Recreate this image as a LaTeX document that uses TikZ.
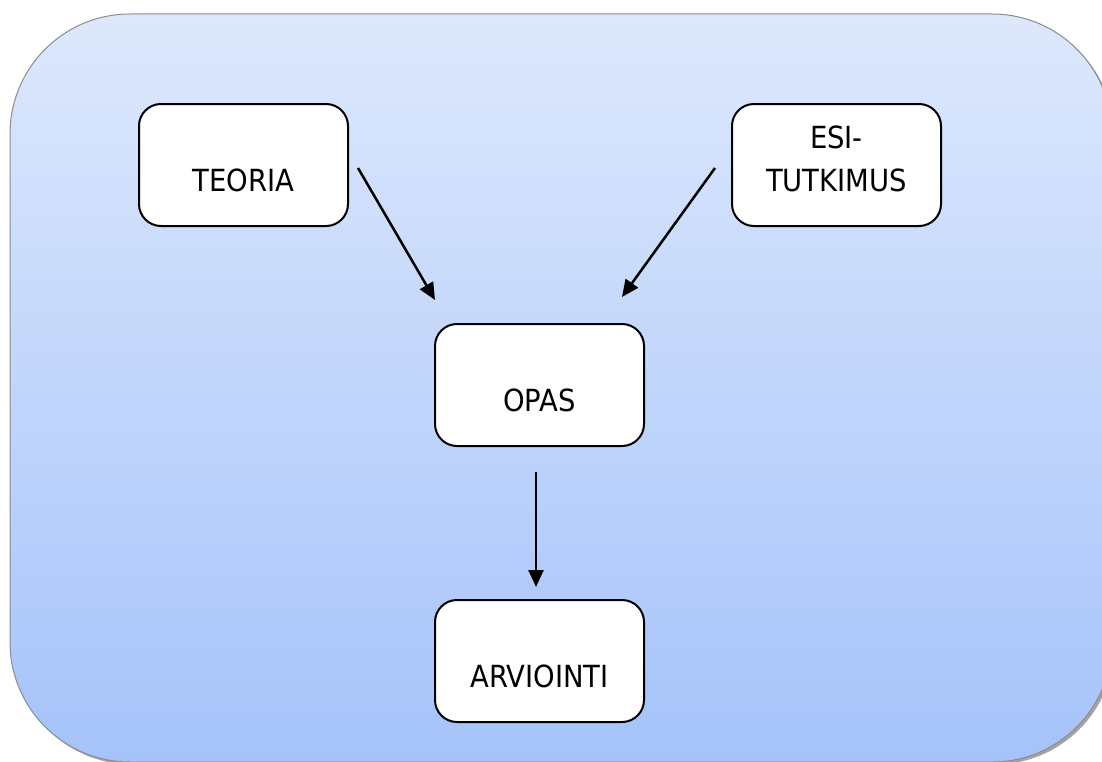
\documentclass[tikz,border=0pt]{standalone}
\usepackage{fontspec}
\setmainfont{DejaVu Sans Condensed}
\usetikzlibrary{arrows.meta,shadows}
\definecolor{paneltop}{HTML}{DDE8FC}
\definecolor{panelbottom}{HTML}{A5C3FA}
\begin{document}
\begin{tikzpicture}[x=1bp,y=-1bp,
  stagebox/.style={draw=black, line width=2bp, fill=white, rounded corners=22bp,
    minimum width=209bp, minimum height=122bp, inner sep=0pt, anchor=north west,
    text height=87bp, text depth=35bp, font=\fontsize{30.5bp}{43bp}\selectfont},
  flow/.style={line width=2.5bp, -{Triangle[length=17bp,width=15bp]}}]
\useasboundingbox (0,0) rectangle (1102,762);

% background panel with gradient and shadow
\path[draw=gray!90, line width=1bp, rounded corners=120bp,
  top color=paneltop, bottom color=panelbottom,
  drop shadow={shadow xshift=2.5bp, shadow yshift=-2.5bp, opacity=0.45, fill=black!80}]
  (10,14) rectangle (1112,762);

% stages
\node[stagebox] (teoria) at (138,103) {TEORIA};
\node[stagebox] (esi) at (731,103) {\begin{tabular}[b]{@{}c@{}}ESI-\\TUTKIMUS\end{tabular}};
\node[stagebox] (opas) at (434,323) {OPAS};
\node[stagebox] (arviointi) at (434,599) {ARVIOINTI};

% arrow end points
\coordinate (teoriaOut) at (358,168);
\coordinate (opasInL) at (435,300);
\coordinate (esiOut) at (715,168);
\coordinate (opasInR) at (622,297);
\coordinate (opasOut) at (536,472);
\coordinate (arvIn) at (536,587);

\draw[flow] (teoriaOut) -- (opasInL);
\draw[flow] (esiOut) -- (opasInR);
\draw[flow] (opasOut) -- (arvIn);
\end{tikzpicture}
\end{document}
